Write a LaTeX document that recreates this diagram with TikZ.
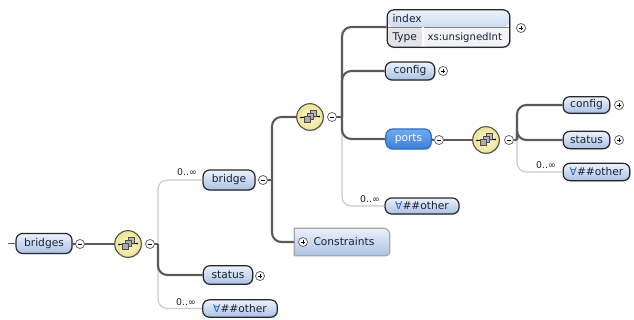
\documentclass[tikz,border=0pt]{standalone}
\usepackage{fontspec}
\setmainfont{DejaVu Sans}
\usetikzlibrary{shadows}

\definecolor{boxTop}{RGB}{236,242,251}
\definecolor{boxBot}{RGB}{170,193,228}
\definecolor{edgeC}{RGB}{40,40,44}
\definecolor{txtC}{RGB}{25,35,55}
\definecolor{portTop}{RGB}{112,170,240}
\definecolor{portBot}{RGB}{60,128,216}
\definecolor{portEdge}{RGB}{50,110,195}
\definecolor{compIn}{RGB}{253,250,214}
\definecolor{compOut}{RGB}{238,226,150}
\definecolor{compEdge}{RGB}{80,80,70}
\definecolor{linkC}{RGB}{90,90,90}
\definecolor{optC}{RGB}{200,200,200}
\definecolor{typeC}{RGB}{226,228,232}
\definecolor{valC}{RGB}{242,243,245}
\definecolor{anyC}{RGB}{40,90,200}

\tikzset{every picture/.style={line width=0.75pt}}
\tikzset{
  elem/.style={draw=edgeC, line width=0.9pt, rounded corners=5pt, top color=boxTop, bottom color=boxBot,
    font=\fontsize{8}{9}\selectfont, text=txtC, inner sep=0pt, minimum height=14pt,
    drop shadow={shadow xshift=0.7pt, shadow yshift=-0.7pt, opacity=0.3}},
  portbox/.style={elem, draw=portEdge, top color=portTop, bottom color=portBot, text=white},
  card/.style={font=\fontsize{7}{8}\selectfont, text=txtC, inner sep=0.75pt},
  pmin/.style={circle, draw=gray!80!black, fill=white, line width=0.6pt, minimum size=6.8pt, inner sep=0pt,
    path picture={\draw[line width=0.6pt,black] ([xshift=-1.8pt]path picture bounding box.center) -- ([xshift=1.8pt]path picture bounding box.center);}},
  pplus/.style={pmin, path picture={\draw[line width=0.6pt,black] ([xshift=-1.8pt]path picture bounding box.center) -- ([xshift=1.8pt]path picture bounding box.center)
    ([yshift=-1.8pt]path picture bounding box.center) -- ([yshift=1.8pt]path picture bounding box.center);}},
  comp/.style={circle, draw=compEdge, line width=0.8pt, inner color=compIn, outer color=compOut, minimum size=20pt, inner sep=0pt,
    drop shadow={shadow xshift=0.7pt, shadow yshift=-0.7pt, opacity=0.3}},
  link/.style={draw=linkC, line width=1.6pt, rounded corners=7},
  opt/.style={draw=optC, line width=0.8pt, rounded corners=7},
}

% sequence icon inside a compositor
\newcommand\seqicon[1]{%
  \begin{scope}[shift={(#1.center)}]
    \draw[line width=0.6pt] (-9,0.5) -- (9,-0.5);
    \fill (-9,0.5) circle (1) (9,-0.5) circle (1);
    \draw[fill=gray!55, draw=black!70, line width=0.4pt] (0,-7) rectangle (6,-1);
    \draw[fill=gray!60, draw=black!70, line width=0.4pt] (-3,-4) rectangle (3,2);
    \draw[fill=gray!65, draw=black!70, line width=0.4pt] (-6,-1) rectangle (0,5);
  \end{scope}}

\begin{document}
\begin{tikzpicture}[x=0.75pt,y=0.75pt,yscale=-1,xscale=1]
\useasboundingbox (0,0) rectangle (634,320);

% junctions
\coordinate (in) at (8,243.5);
\coordinate (j1) at (158,244);
\coordinate (j2) at (272,180);
\coordinate (j3) at (342,117);
\coordinate (j4) at (517,140);
\coordinate (idxrow) at (448,27);
\coordinate (idxcol) at (423,27);

% Elements
\node[elem, minimum width=42pt, minimum height=15pt] (bridges) at (44,243.5) {bridges};
\node[pmin] (m1) at (80,244) {};
\node[comp] (c1) at (128,244) {};
\node[pmin] (m2) at (150,244) {};

\node[elem, minimum width=39pt, minimum height=15pt] (bridge) at (229,180) {bridge};
\node[pmin] (m3) at (263,180) {};
\node[elem, minimum width=37pt] (status) at (228,275) {status};
\node[pplus] (s1) at (260,276) {};
\node[elem, minimum width=56pt, minimum height=13pt] (other) at (240,308.5) {\textcolor{anyC}{∀}\#\#other};

\node[comp] (c2) at (310,117) {};
\node[pmin] (m4) at (332,117) {};

% Shape: constraints box
\node[minimum width=71pt, minimum height=20pt, inner sep=0pt] (cons) at (342,242) {};
\shade[top color=boxTop, bottom color=boxBot, draw=gray!70, line width=0.9pt]
  (cons.south west) -- (cons.north west) [rounded corners=5pt] -- (cons.north east) [rounded corners=3pt] -- (cons.south east) [sharp corners] -- cycle;
\node[pplus] (cp) at (303,242) {};
\node[font=\fontsize{8}{9}\selectfont, text=txtC, anchor=west, inner sep=0pt] (constxt) at (313,242) {Constraints};

% Shape: index element
\node[draw=edgeC, line width=0.9pt, rounded corners=5pt, fill=white, minimum width=92pt, minimum height=28pt, inner sep=0pt,
  drop shadow={shadow xshift=0.7pt, shadow yshift=-0.7pt, opacity=0.3},
  path picture={
    \shade[top color=boxTop, bottom color=boxBot] (path picture bounding box.north west) rectangle (path picture bounding box.east |- idxrow);
    \fill[typeC] (path picture bounding box.south west) rectangle (idxcol);
    \fill[valC] (idxcol) rectangle (path picture bounding box.south east);
    \draw[gray, line width=0.5pt] (path picture bounding box.west |- idxrow) -- (path picture bounding box.east |- idxrow);
    \draw[white, line width=0.8pt] (idxcol) -- (idxcol |- path picture bounding box.south);
  }] (index) at (448.5,28.5) {};
\node[font=\fontsize{8}{9}\selectfont, text=txtC, anchor=west, inner sep=0pt] (idxname) at (392,18.5) {index};
\node[font=\fontsize{8}{9}\selectfont, text=txtC, anchor=west, inner sep=0pt] (idxtype) at (392,37.5) {Type};
\node[font=\fontsize{7.6}{9}\selectfont, text=txtC, anchor=west, inner sep=0pt] (idxval) at (427,37.5) {xs:unsignedInt};
\node[pplus] (p1) at (521,28) {};

\node[elem, minimum width=37pt, minimum height=13.5pt] (config) at (410,71) {config};
\node[pplus] (p2) at (443,71) {};
\node[portbox, minimum width=34pt, minimum height=15pt] (ports) at (408.5,139) {ports};
\node[pmin] (m5) at (439,140) {};
\node[comp] (c3) at (486,140) {};
\node[pmin] (m6) at (509,140) {};
\node[elem, minimum width=55.5pt, minimum height=12pt] (other2) at (422,206) {\textcolor{anyC}{∀}\#\#other};

\node[elem, minimum width=35pt, minimum height=12.5pt] (config2) at (586.5,105) {config};
\node[pplus] (p3) at (619,105) {};
\node[elem, minimum width=35pt, minimum height=13pt] (status2) at (586.5,140) {status};
\node[pplus] (p4) at (619,140) {};
\node[elem, minimum width=50pt, minimum height=13pt] (other3) at (596.5,172) {\textcolor{anyC}{∀}\#\#other};

\seqicon{c1}
\seqicon{c2}
\seqicon{c3}

% Text Node
\node[card] (k1) at (187,172.5) {0..∞};
\node[card] (k2) at (186,302.5) {0..∞};
\node[card] (k3) at (370,199.5) {0..∞};
\node[card] (k4) at (546,165.5) {0..∞};

% Straight Lines
\draw[opt] (j1) |- (bridge);
\draw[opt] (j1) |- (other);
\draw[opt] (j3) |- (other2);
\draw[opt] (j4) |- (other3);

\draw[link, line width=1.2pt] (in) -- (bridges);
\draw[link] (bridges) -- (m1);
\draw[link] (m1) -- (c1);
\draw[link, sharp corners] (m2) -- (j1);
\draw[link] (j1) |- (status);
\draw[link, sharp corners] (m3) -- (j2);
\draw[link] (j2) |- (c2);
\draw[link] (j2) |- (cons.west);
\draw[link, sharp corners] (m4) -- (j3);
\draw[link] (j3) |- (index.west |- idxrow);
\draw[link] (j3) |- (config);
\draw[link] (j3) |- (ports);
\draw[link] (ports) -- (m5);
\draw[link] (m5) -- (c3);
\draw[link, sharp corners] (m6) -- (j4);
\draw[link] (j4) |- (config2);
\draw[link] (j4) |- (status2);

\end{tikzpicture}
\end{document}
